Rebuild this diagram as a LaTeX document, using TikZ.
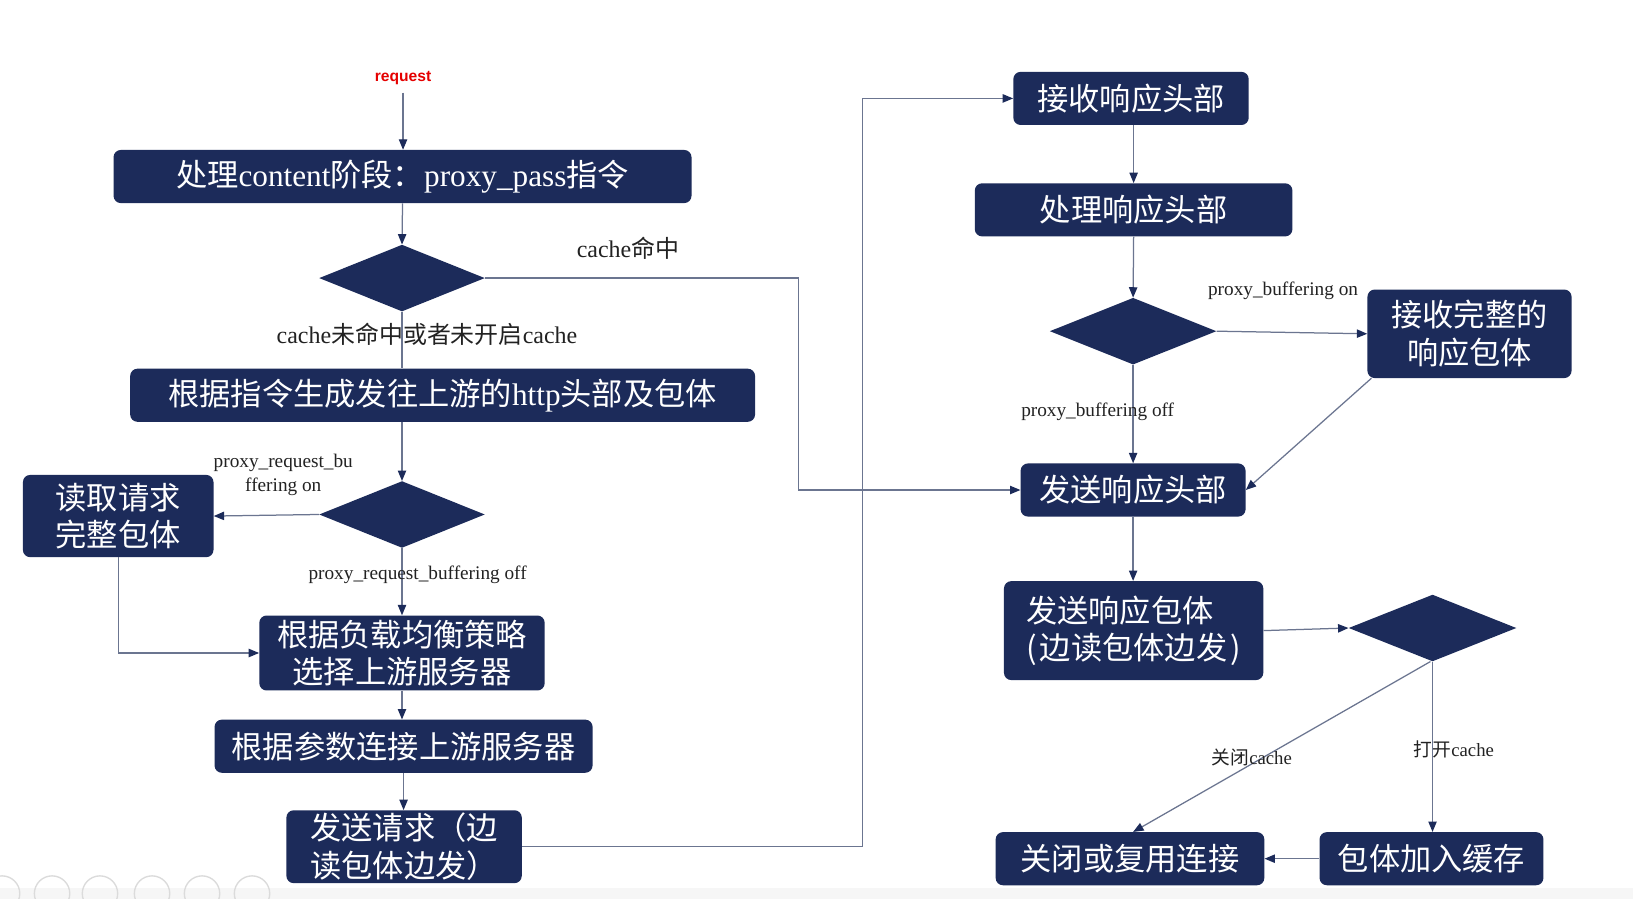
\documentclass[tikz,border=0pt]{standalone}
\usepackage{fontspec}
\setmainfont{Liberation Serif}
\newfontfamily\cjk{Noto Sans CJK SC}
\newfontfamily\sansf{Liberation Sans}
\usetikzlibrary{arrows.meta,shapes.geometric}
\definecolor{navy}{HTML}{1C2B5A}
\definecolor{lineg}{HTML}{6B7590}
\definecolor{labg}{HTML}{222222}
\newcommand{\zhs}[1]{{\cjk #1}}
\newcommand{\lat}[1]{{\rmfamily #1}}
\tikzset{
 box/.style={fill=navy, rounded corners=7pt, text=white, inner sep=0pt, font=\cjk\fontsize{30}{36}\selectfont},
 dia/.style={diamond, fill=navy, inner sep=0pt, aspect=2.5},
 conn/.style={draw=lineg, line width=1.2pt},
 arr/.style={conn, -{Triangle[length=10pt,width=8pt,color=navy]}},
 lab/.style={text=labg, inner sep=0pt, font=\fontsize{18.5}{23}\selectfont},
 labbig/.style={text=labg, inner sep=0pt, font=\fontsize{23}{27}\selectfont},
 tool/.style={draw=gray!28, line width=1.3pt},
}
\begin{document}
\begin{tikzpicture}[x=1pt,y=-1pt]
\fill[white] (0,0) rectangle (1568,863);
\useasboundingbox (0,0) rectangle (1568,863);
% presentation toolbar (faint)
\fill[gray!7] (0,853) rectangle (1568,863);
\foreach \cx in {2,50,96,146,194,242} \draw[tool] (\cx,858) circle (17pt);

% ---- nodes ----
\node[text=red!90!black, inner sep=1pt, font=\sansf\bfseries\fontsize{15}{18}\selectfont] (R) at (387,75) {request};
\coordinate (rs) at (387,89);
\node[box, minimum width=555pt, minimum height=51pt] (A) at (386.5,169.5) {处理\lat{content}阶段：\lat{proxy\_pass}指令};
\node[dia, minimum width=159pt, minimum height=64pt] (D1) at (386,267) {};
\node[box, minimum width=600pt, minimum height=51pt] (B) at (425,379.5) {根据指令生成发往上游的\lat{http}头部及包体};
\node[dia, minimum width=159pt, minimum height=64pt] (D2) at (386,494) {};
\node[box, minimum width=183pt, minimum height=79pt, align=center] (C) at (113.5,495.5) {读取请求\\完整包体};
\node[box, minimum width=274pt, minimum height=72pt, align=center] (D) at (386,627) {根据负载均衡策略\\选择上游服务器};
\node[box, minimum width=363pt, minimum height=51pt] (E) at (387.5,716.5) {根据参数连接上游服务器};
\node[box, minimum width=226pt, minimum height=70pt, align=left] (F) at (388,813) {发送请求（边\\读包体边发）};

\node[box, minimum width=226pt, minimum height=51pt] (G) at (1086,94.5) {接收响应头部};
\node[box, minimum width=305pt, minimum height=51pt] (H) at (1088.5,201.5) {处理响应头部};
\node[dia, minimum width=160pt, minimum height=64pt] (D3) at (1088,318) {};
\node[box, minimum width=196pt, minimum height=85pt, align=center] (I) at (1411,320.5) {接收完整的\\响应包体};
\node[box, minimum width=216pt, minimum height=51pt] (J) at (1088,470.5) {发送响应头部};
\node[box, minimum width=249pt, minimum height=95pt, align=left] (K) at (1088.5,605.5) {发送响应包体\\(\hspace{3pt}边读包体边发\hspace{3pt})};
\node[dia, minimum width=161pt, minimum height=64pt] (D4) at (1375.5,603) {};
\node[box, minimum width=258pt, minimum height=51pt] (L) at (1085,824.5) {关闭或复用连接};
\node[box, minimum width=215pt, minimum height=51pt] (M) at (1374.5,824.5) {包体加入缓存};

\coordinate (c1) at (767,0);
\coordinate (c2) at (828,0);

% ---- connectors ----
\draw[arr] (rs) -- (rs |- A.north);
\draw[arr] (A.south) -- (D1.north);
\draw[arr] (D1.east) -- (D1.east -| c1) -- (c1 |- J.west) -- (J.west);
\draw[conn] (D1.south) -- (D1.south |- B.north);
\draw[arr] (D2.north |- B.south) -- (D2.north);
\draw[arr] (D2.west) -- (C.east);
\draw[arr] (C.south) |- (D.west);
\draw[arr] (D2.south) -- (D.north);
\draw[arr] (D.south) -- (D.south |- E.north);
\draw[arr] (E.south) -- (E.south |- F.north);
\draw[arr] (F.east) -- (F.east -| c2) -- (c2 |- G.west) -- (G.west);

\draw[arr] (H.north |- G.south) -- (H.north);
\draw[arr] (H.south) -- (D3.north);
\draw[arr] (D3.east) -- (I.west);
\draw[arr] ([xshift=4pt]I.south west) -- (J.east);
\draw[arr] (D3.south) -- (J.north);
\draw[arr] (J.south) -- (J.south |- K.north);
\draw[arr] (K.east) -- (D4.west);
\draw[arr] (D4.south) -- (D4.south |- M.north);
\draw[arr] ([xshift=-2pt]D4.south) -- ([xshift=3pt]L.north);
\draw[arr] (M.west) -- (L.east);

% ---- labels ----
\node[labbig] (l1) at (603,238) {cache\zhs{命中}};
\node[labbig] (l2) at (410,321) {cache\zhs{未命中或者未开启}cache};
\node[lab, align=center] (l3) at (272,456) {proxy\_request\_bu\\ffering on};
\node[lab] (l4) at (401,552) {proxy\_request\_buffering off};
\node[lab] (l5) at (1232,279) {proxy\_buffering on};
\node[lab] (l6) at (1054,395) {proxy\_buffering off};
\node[lab, font=\fontsize{18}{22}\selectfont] (l7) at (1202,727) {\zhs{关闭}cache};
\node[lab, font=\fontsize{18}{22}\selectfont] (l8) at (1396,720) {\zhs{打开}cache};
\end{tikzpicture}
\end{document}
